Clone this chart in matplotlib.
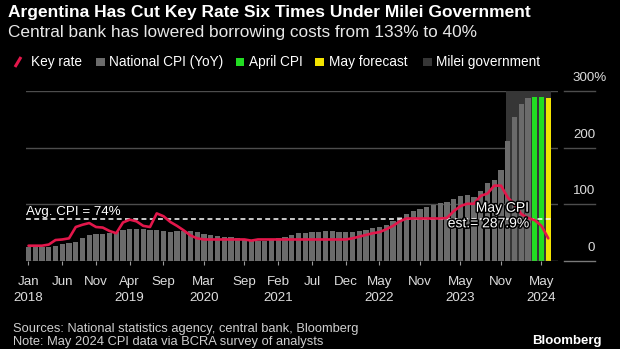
import matplotlib
matplotlib.use("Agg")
import matplotlib.pyplot as plt
import matplotlib.patheffects as pe
from matplotlib.patches import Rectangle
from matplotlib.lines import Line2D

plt.rcParams['font.family'] = ['Liberation Sans', 'DejaVu Sans']

# Monthly series, position 0 = Jan 2018
cpi_yoy = [
    25.0, 25.4, 25.4, 25.5, 26.3, 29.5, 31.2, 34.4, 40.5, 45.9, 48.5, 47.6,   # 2018
    49.3, 51.3, 54.7, 55.8, 57.3, 55.8, 54.4, 54.5, 53.5, 50.5, 52.1, 53.8,   # 2019
    52.9, 50.3, 48.4, 45.6, 43.4, 42.8, 42.4, 40.7, 36.6, 37.2, 35.8, 36.1,   # 2020
    38.5, 40.7, 42.6, 46.3, 48.8, 50.2, 51.8, 51.4, 52.5, 52.1, 51.2, 50.9,   # 2021
    50.7, 52.3, 55.1, 58.0, 60.7, 64.0, 71.0, 78.5, 83.0, 88.0, 92.4, 94.8,   # 2022
    98.8, 102.5, 104.3, 108.8, 114.2, 115.6, 113.4, 124.4, 138.3, 142.7, 160.9, 211.4,  # 2023
    254.2, 276.2, 287.9,                                                      # 2024
]
april_cpi = [289.4, 289.4]
may_forecast = [287.9]

key_rate = [
    27, 27, 27, 29, 37, 38, 40, 60, 64, 67, 60, 59,
    53, 49, 68, 73, 70, 62, 60, 84, 79, 69, 62, 54,
    45, 40, 38, 38, 38, 38, 38, 38, 38, 36, 38, 38,
    38, 38, 38, 38, 38, 38, 38, 38, 38, 38, 38, 38,
    40, 43, 46, 49, 51, 56, 62, 70, 75, 75, 75, 75,
    75, 75, 76, 88, 97, 101, 101, 115, 119, 133, 133, 112,
    100, 83, 76, 72, 62, 40,
]

avg_cpi = 74
milei_span = (70.7, 77.4)

tick_pos = [0, 5, 10, 15, 20, 26, 32, 37, 42, 47, 52, 58, 64, 70, 76]
tick_months = ['Jan', 'Jun', 'Nov', 'Apr', 'Sep', 'Mar', 'Sep', 'Feb', 'Jul',
               'Dec', 'May', 'Nov', 'May', 'Nov', 'May']
tick_years = ['2018', '', '', '2019', '', '2020', '', '2021', '', '',
              '2022', '', '2023', '', '2024']

y_ticks = [0, 100, 200, 300]

RED = '#e3174b'
GRAY_BAR = '#6b6b6b'
GREEN = '#22dd22'
YELLOW = '#f3e300'
MILEI = '#363636'
GRID = '#4d4d4d'

W, H = 620, 349
fig = plt.figure(figsize=(W / 100, H / 100), dpi=100, facecolor='black')
ax = fig.add_axes([26 / W, 88 / H, 531.7 / W, 170 / H])
ax.set_facecolor('black')

xmin, xmax = -0.37, 78.4
ax.set_xlim(xmin, xmax)
ax.set_ylim(0, 300)

# grid lines inside the plot
for v in y_ticks[1:]:
    ax.axhline(v, color=GRID, lw=1.0, zorder=0)
ax.axhline(0, color='#7a7a7a', lw=1.0, zorder=3)

# Milei government period
ax.fill_between(milei_span, 0, 300, color=MILEI, lw=0, zorder=1)

n_gray = len(cpi_yoy)
ax.bar(range(n_gray), cpi_yoy, width=0.78, color=GRAY_BAR, lw=0, zorder=2)
ax.bar(range(n_gray, n_gray + len(april_cpi)), april_cpi, width=0.7,
       color=GREEN, lw=0, zorder=2)
start_may = n_gray + len(april_cpi)
ax.bar(range(start_may, start_may + len(may_forecast)), may_forecast,
       width=0.7, color=YELLOW, lw=0, zorder=2)

# average CPI reference line
ax.hlines(avg_cpi, xmin, milei_span[1], colors='white', lw=1.1,
          linestyles=(0, (3.2, 2.2)), zorder=4)
ax.text(xmin, avg_cpi + 2.5, f'Avg. CPI = {avg_cpi}%', color='white',
        fontsize=9.6, ha='left', va='bottom', zorder=6)

ax.plot(range(len(key_rate)), key_rate, color=RED, lw=1.9,
        solid_joinstyle='round', solid_capstyle='round', zorder=5)

halo = [pe.withStroke(linewidth=2.2, foreground='black')]
ax.text(74.15, 94, 'May CPI', color='white', fontsize=10, ha='right',
        va='center', zorder=7, path_effects=halo)
ax.text(74.15, 66.5, f'est.= {may_forecast[0]}%', color='white', fontsize=10,
        ha='right', va='center', zorder=7, path_effects=halo)

# right-hand value labels with short rules
ytr = ax.get_yaxis_transform()
for v in y_ticks:
    ax.plot([1.0124, 1.0702], [v, v], transform=ytr, color=GRID if v else '#7a7a7a',
            lw=1.0, clip_on=False)
    label, xr = (f'{v}%', 1.0927) if v == y_ticks[-1] else (str(v), 1.0702)
    ax.annotate(label, xy=(xr, v), xycoords=ytr, xytext=(0, 9.3),
                textcoords='offset points', ha='right', va='center',
                color='#dddddd', fontsize=9.6, annotation_clip=False)

for s in ax.spines.values():
    s.set_visible(False)
ax.set_yticks([])
ax.set_xticks(tick_pos)
ax.set_xticklabels([f'{m}\n{y}' for m, y in zip(tick_months, tick_years)],
                   color='#dddddd', fontsize=9.6, linespacing=1.42)
ax.tick_params(axis='x', direction='out', length=3.2, width=0.8,
               color='#9a9a9a', pad=7.5)

# titles
fig.text(8 / W, 1 - 13 / H, 'Argentina Has Cut Key Rate Six Times Under Milei Government',
         color='white', fontsize=12.5, fontweight='bold', ha='left', va='center')
fig.text(8 / W, 1 - 33 / H, 'Central bank has lowered borrowing costs from 133% to 40%',
         color='#e8e8e8', fontsize=12.4, ha='left', va='center')

# legend row
ly = 1 - 62 / H
fig.add_artist(Line2D([15 / W, 21 / W], [1 - 67 / H, 1 - 57 / H], color=RED,
                      lw=2.2, solid_capstyle='butt'))
fig.text(31 / W, ly, 'Key rate', color='white', fontsize=9.8, ha='left', va='center')
legend_boxes = [
    (96, GRAY_BAR, 'National CPI (YoY)', 109),
    (235.5, GREEN, 'April CPI', 249),
    (315, YELLOW, 'May forecast', 329),
    (423, MILEI, 'Milei government', 436),
]
for bx, col, label, tx in legend_boxes:
    fig.add_artist(Rectangle((bx / W, (H - 66) / H), 8.5 / W, 8.5 / H,
                             transform=fig.transFigure, color=col, lw=0))
    fig.text(tx / W, ly, label, color='white', fontsize=9.8, ha='left', va='center')

# footer
fig.text(13 / W, 1 - 329 / H, 'Sources: National statistics agency, central bank, Bloomberg',
         color='#cfcfcf', fontsize=9.3, ha='left', va='center')
fig.text(13 / W, 1 - 341.5 / H, 'Note: May 2024 CPI data via BCRA survey of analysts',
         color='#cfcfcf', fontsize=9.3, ha='left', va='center')
fig.text(602 / W, 1 - 341 / H, 'Bloomberg', color='white', fontsize=9.5,
         fontweight='bold', ha='right', va='center')

fig.savefig('out.png', dpi=100, facecolor='black')
